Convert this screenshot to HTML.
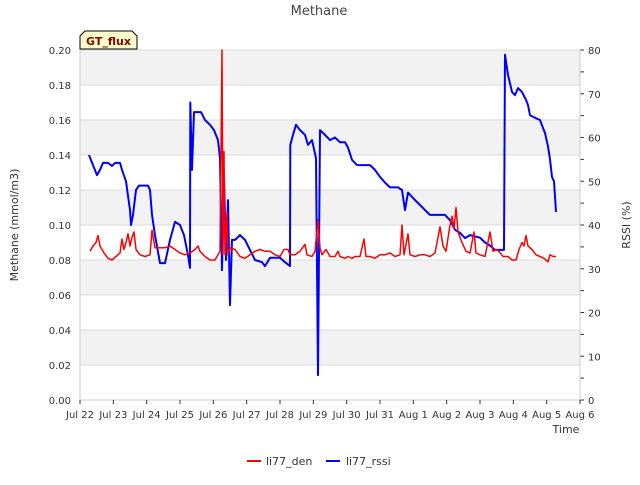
<!DOCTYPE html>
<html><head><meta charset="utf-8"><style>
body{margin:0;background:#fff;font-family:"Liberation Sans","DejaVu Sans",sans-serif}
svg text{font-family:"DejaVu Sans","Liberation Sans",sans-serif}
</style></head><body>
<svg id="chart" width="640" height="480" viewBox="0 0 640 480">
<g id="bands"></g>
<g id="axes"></g>
<g id="series"></g>
<text x="319" y="15" text-anchor="middle" font-size="13" fill="#444">Methane</text>
<text transform="translate(18,225) rotate(-90)" text-anchor="middle" font-size="11" fill="#333">Methane (mmol/m3)</text>
<text transform="translate(630,225) rotate(-90)" text-anchor="middle" font-size="11" fill="#333">RSSI (%)</text>
<text x="566" y="433" text-anchor="middle" font-size="11" fill="#333">Time</text>
<g>
<path d="M80,49 L80,36 L85,31 L132,31 L137,36 L137,49 Z" fill="#ffffcc" stroke="#000" stroke-width="1"/>
<text x="108.5" y="45" text-anchor="middle" font-size="11" font-weight="bold" fill="#8b0000">GT_flux</text>
</g>
<g>
<g><line x1="247" y1="461" x2="261" y2="461" stroke="red" stroke-width="2"/><text x="266" y="465" font-size="11" fill="#333">li77_den</text></g>
<g><line x1="326" y1="461" x2="340" y2="461" stroke="blue" stroke-width="2"/><text x="346" y="465" font-size="11" fill="#333">li77_rssi</text></g>
</g>
</svg>
<script>
const xTickLabels=["Jul 22","Jul 23","Jul 24","Jul 25","Jul 26","Jul 27","Jul 28","Jul 29","Jul 30","Jul 31","Aug 1","Aug 2","Aug 3","Aug 4","Aug 5","Aug 6"];
const yTicks=[0,0.02,0.04,0.06,0.08,0.10,0.12,0.14,0.16,0.18,0.20];
const y2Ticks=[0,10,20,30,40,50,60,70,80];
// days since Jul 22 00:00
const rssiT=[0.27,0.39,0.51,0.60,0.69,0.84,0.96,1.05,1.20,1.26,1.38,1.50,1.53,1.59,1.68,1.77,2.04,2.10,2.16,2.25,2.40,2.55,2.70,2.85,3.00,3.12,3.24,3.30,3.31,3.36,3.42,3.51,3.63,3.75,3.90,4.02,4.14,4.20,4.26,4.32,4.38,4.44,4.50,4.56,4.65,4.80,4.95,5.10,5.25,5.46,5.55,5.70,6.00,6.15,6.30,6.31,6.39,6.48,6.60,6.75,6.84,6.96,7.08,7.14,7.20,7.35,7.50,7.65,7.80,7.95,8.04,8.16,8.31,8.70,8.85,9.00,9.15,9.30,9.54,9.66,9.75,9.84,10.05,10.20,10.35,10.50,10.95,11.10,11.25,11.40,11.55,11.70,12.00,12.15,12.30,12.45,12.72,12.75,12.84,12.96,13.05,13.14,13.26,13.38,13.44,13.50,13.65,13.80,13.95,14.04,14.10,14.16,14.22,14.28];
const rssiV=[56,53.7,51.4,52.6,54.2,54.2,53.5,54.2,54.2,52.6,50,43.4,40,42.3,48,49,49,48,42.3,37.7,31.3,31.3,36.6,40.7,40,37.7,33.1,30.2,68,52.6,65.8,65.8,65.8,64,62.9,61.7,59.4,55.3,29.7,51.4,32,45.7,21.7,36.6,36.6,37.7,36.6,34.3,32,31.5,30.6,32.5,32.5,31.5,30.6,58.3,60.6,62.9,61.7,60.6,58.3,59.4,55.3,5.7,61.7,60.6,59.4,60,58.9,58.9,57.7,54.9,53.7,53.7,52.6,51,49.7,48.6,48.6,48,43.4,47.4,45.7,44.6,43.4,42.3,42.3,41.1,38.9,38.2,37,37.7,37.1,36,35.3,34.3,34.3,78.9,74.3,70.4,69.7,71.3,70.4,68.6,67.4,65.1,64.5,64,61,58,55,51,50,43];
const denT=[0.30,0.39,0.48,0.54,0.60,0.72,0.84,0.96,1.08,1.20,1.26,1.32,1.38,1.44,1.50,1.56,1.62,1.68,1.80,1.95,2.10,2.16,2.25,2.40,2.55,2.70,2.85,3.00,3.15,3.30,3.45,3.54,3.60,3.75,3.90,4.05,4.14,4.20,4.26,4.29,4.32,4.35,4.41,4.44,4.50,4.65,4.80,4.95,5.10,5.25,5.40,5.55,5.70,5.85,6.00,6.12,6.24,6.30,6.45,6.60,6.75,6.81,6.96,7.05,7.14,7.20,7.26,7.38,7.50,7.65,7.74,7.80,7.95,8.04,8.16,8.25,8.40,8.52,8.58,8.70,8.85,9.00,9.15,9.30,9.45,9.60,9.66,9.72,9.84,9.90,10.05,10.20,10.35,10.50,10.65,10.80,10.89,10.98,11.10,11.16,11.22,11.28,11.34,11.46,11.58,11.70,11.82,11.88,12.00,12.15,12.30,12.39,12.48,12.57,12.69,12.84,12.96,13.08,13.17,13.26,13.32,13.38,13.44,13.56,13.68,13.80,13.92,14.04,14.10,14.19,14.28];
const denV=[0.085,0.088,0.090,0.094,0.088,0.084,0.081,0.080,0.082,0.084,0.092,0.086,0.090,0.095,0.088,0.093,0.096,0.086,0.083,0.082,0.083,0.097,0.087,0.087,0.087,0.088,0.086,0.084,0.083,0.084,0.086,0.088,0.085,0.082,0.080,0.080,0.083,0.085,0.200,0.083,0.142,0.083,0.107,0.083,0.087,0.086,0.082,0.081,0.083,0.085,0.086,0.085,0.085,0.083,0.082,0.086,0.086,0.083,0.083,0.085,0.089,0.083,0.082,0.085,0.103,0.087,0.083,0.086,0.082,0.082,0.085,0.082,0.081,0.082,0.081,0.082,0.082,0.092,0.082,0.082,0.081,0.083,0.083,0.084,0.082,0.083,0.100,0.083,0.095,0.083,0.082,0.083,0.083,0.082,0.084,0.099,0.088,0.085,0.100,0.105,0.098,0.110,0.096,0.090,0.085,0.084,0.096,0.084,0.083,0.082,0.096,0.085,0.086,0.085,0.082,0.082,0.080,0.080,0.086,0.090,0.088,0.094,0.088,0.086,0.083,0.082,0.081,0.079,0.083,0.082,0.082];

const NS="http://www.w3.org/2000/svg";
const L=80,R=580,T=50,B=400;
const xs=d=>L+d*(R-L)/15;
const ys=v=>B-v*(B-T)/0.2;
const y2s=v=>B-v*(B-T)/80;
function mk(tag,attrs,parent){const e=document.createElementNS(NS,tag);for(const k in attrs)e.setAttribute(k,attrs[k]);parent.appendChild(e);return e;}
const bands=document.getElementById('bands'),axes=document.getElementById('axes'),series=document.getElementById('series');
mk('rect',{x:L,y:T,width:R-L,height:B-T,fill:'#fff'},bands);
for(let i=0;i<yTicks.length-1;i++){
  if(i%2===1){const r=mk('rect',{x:L,y:ys(yTicks[i+1]),width:R-L,height:ys(yTicks[i])-ys(yTicks[i+1]),fill:'#f2f2f2'},bands);
  
  }
}
yTicks.forEach(v=>{
  const y=ys(v);
  const g=mk('line',{x1:L,x2:R,y1:y,y2:y,stroke:'#dcdcdc','stroke-width':1},bands);
  
  
  const t=mk('text',{x:71,y:y+4,'text-anchor':'end','font-size':10,fill:'#333'},axes);
  
  
  t.textContent=v.toFixed(2);
});
for(let v=0;v<=80;v+=5){
  const y=y2s(v);
  const tk=mk('line',{x1:R,x2:R+4,y1:y,y2:y,stroke:'#333','stroke-width':1},axes);
  
  
}
y2Ticks.forEach(v=>{
  const t=mk('text',{x:588,y:y2s(v)+4,'font-size':10,fill:'#333'},axes);
  
  
  t.textContent=v;
});
mk('line',{x1:L,x2:L,y1:T,y2:B,stroke:'#ccc'},axes);
mk('line',{x1:R,x2:R,y1:T,y2:B,stroke:'#ccc'},axes);
mk('line',{x1:L,x2:R,y1:B,y2:B,stroke:'#ccc'},axes);
xTickLabels.forEach((s,i)=>{
  const x=xs(i);
  const tk=mk('line',{x1:x,x2:x,y1:B,y2:B+4,stroke:'#333'},axes);
  
  
  const t=mk('text',{x:x,y:418,'text-anchor':'middle','font-size':10,fill:'#333'},axes);
  
  
  t.textContent=s;
});
function line(T_,V_,sc,color){return T_.map((t,i)=>xs(t).toFixed(1)+','+sc(V_[i]).toFixed(1)).join(' ');}
const pb=mk('polyline',{points:line(rssiT,rssiV,y2s),fill:'none',stroke:'blue','stroke-width':2,'stroke-linejoin':'round'},series);


const pr=mk('polyline',{points:line(denT,denV,ys),fill:'none',stroke:'red','stroke-width':1.5,'stroke-linejoin':'round'},series);


</script>
</body></html>
